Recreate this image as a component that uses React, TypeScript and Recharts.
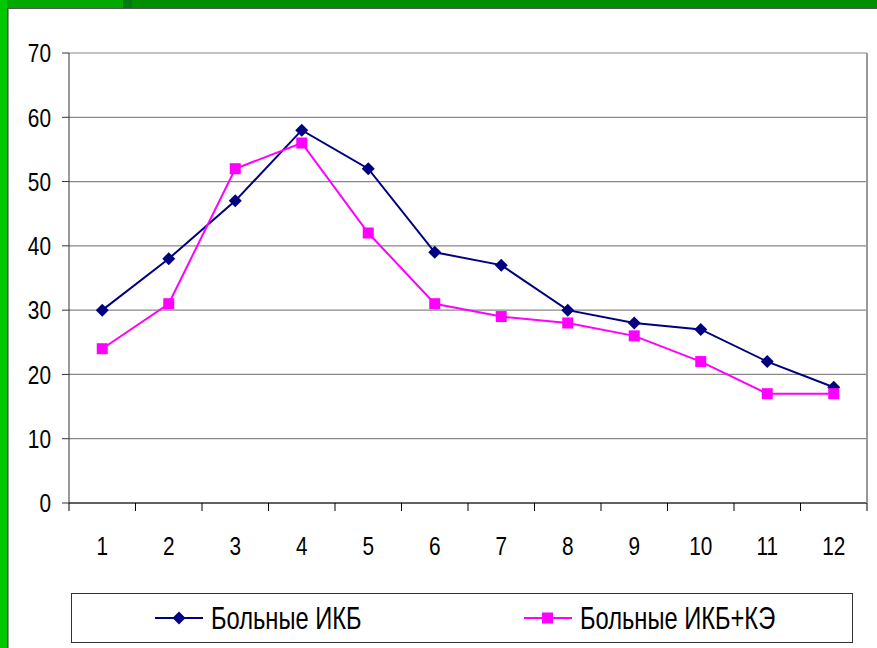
import React from "react";
import { LineChart, Line, XAxis, YAxis, CartesianGrid } from "recharts";

// categories (1..12) and the two series
const categories = ["1", "2", "3", "4", "5", "6", "7", "8", "9", "10", "11", "12"];
const ikb = [30, 38, 47, 58, 52, 39, 37, 30, 28, 27, 22, 18];
const ikbKe = [24, 31, 52, 56, 42, 31, 29, 28, 26, 22, 17, 17];
const yTicks = [0, 10, 20, 30, 40, 50, 60, 70];
const seriesNames = ["Больные ИКБ", "Больные ИКБ+КЭ"];

const NAVY = "#000080";
const MAGENTA = "#ff00ff";
// no narrow font installed, so Liberation Sans is squeezed horizontally
const FONT = "'Liberation Sans', Arial, sans-serif";
const SQUEEZE = 0.8;

const W = 877;
const H = 648;
const PLOT_W = 798;
const STEP = PLOT_W / categories.length;

const data = categories.map((c, i) => ({ cat: c, ikb: ikb[i], ikbKe: ikbKe[i] }));

function Diamond({ cx, cy }: any) {
  if (cx == null || cy == null) return null;
  const r = 6.5;
  return <polygon points={`${cx},${cy - r} ${cx + r},${cy} ${cx},${cy + r} ${cx - r},${cy}`} fill={NAVY} />;
}

function Square({ cx, cy }: any) {
  if (cx == null || cy == null) return null;
  return <rect x={cx - 5.5} y={cy - 5.5} width={11} height={11} fill={MAGENTA} />;
}

// labels at category centres, tick marks on the category boundaries (Excel style)
function XTick({ x, y, payload, index }: any) {
  const top = y - 8;
  return (
    <g>
      <line x1={x - STEP / 2} x2={x - STEP / 2} y1={top} y2={top + 8} stroke="#000" />
      {index === categories.length - 1 && (
        <line x1={x + STEP / 2} x2={x + STEP / 2} y1={top} y2={top + 8} stroke="#000" />
      )}
      <text
        transform={`translate(${x},${y + 44}) scale(${SQUEEZE},1)`}
        textAnchor="middle"
        fontSize={26}
        fontFamily={FONT}
        fill="#000"
      >
        {payload.value}
      </text>
    </g>
  );
}

function YTick({ x, y, payload }: any) {
  return (
    <text
      transform={`translate(${x},${y}) scale(${SQUEEZE},1)`}
      textAnchor="end"
      dy="0.355em"
      fontSize={26}
      fontFamily={FONT}
      fill="#000"
    >
      {payload.value}
    </text>
  );
}

function LegendItem({ name, color, square, left }: any) {
  return (
    <div style={{ position: "absolute", left, top: 0, height: 48, display: "flex", alignItems: "center", whiteSpace: "nowrap" }}>
      <svg width={50} height={20} style={{ marginRight: 6, flex: "none" }}>
        <line x1={0} x2={48} y1={10} y2={10} stroke={color} strokeWidth={2} />
        {square ? (
          <rect x={18} y={4.5} width={11} height={11} fill={color} />
        ) : (
          <polygon points="24,3.5 30.5,10 24,16.5 17.5,10" fill={color} />
        )}
      </svg>
      <span
        style={{
          display: "inline-block",
          fontFamily: FONT,
          fontSize: 32,
          color: "#000",
          lineHeight: 1,
          transform: "scaleX(0.74)",
          transformOrigin: "left center",
        }}
      >
        {name}
      </span>
    </div>
  );
}

export default function App() {
  return (
    <div style={{ position: "fixed", left: 0, top: 0, width: W, height: H, background: "#fff", overflow: "hidden" }}>
      {/* slide frame */}
      <div style={{ position: "absolute", left: 0, top: 0, width: W, height: 8, background: "#008f00" }} />
      <div style={{ position: "absolute", left: 0, top: 0, width: 123, height: 8, background: "#00a800" }} />
      <div style={{ position: "absolute", left: 123, top: 0, width: 9, height: 8, background: "#007a12" }} />
      <div style={{ position: "absolute", left: 0, top: 8, width: W, height: 1, background: "#555" }} />
      <div style={{ position: "absolute", left: 0, top: 0, width: 7, height: H, background: "#00c800" }} />
      <div style={{ position: "absolute", left: 7, top: 9, width: 1, height: H, background: "#008000" }} />
      <div style={{ position: "absolute", left: 8, top: 9, width: 1, height: H, background: "#999" }} />

      <div style={{ position: "absolute", left: 0, top: 0 }}>
        <LineChart width={W} height={H} data={data} margin={{ top: 53, right: 0, left: 0, bottom: 85 }}>
          <CartesianGrid vertical={false} stroke="#888" strokeWidth={1.2} />
          <XAxis
            dataKey="cat"
            height={60}
            padding={{ left: STEP / 2, right: STEP / 2 }}
            axisLine={{ stroke: "#000", strokeWidth: 1.2 }}
            tickLine={false}
            tickSize={8}
            tickMargin={0}
            tick={<XTick />}
            interval={0}
          />
          <YAxis
            width={69}
            domain={[0, 70]}
            ticks={yTicks}
            interval={0}
            axisLine={{ stroke: "#333" }}
            tickLine={{ stroke: "#333" }}
            tickSize={7}
            tickMargin={11}
            tick={<YTick />}
          />
          <YAxis
            yAxisId="frame"
            orientation="right"
            width={10}
            domain={[0, 70]}
            tick={false}
            tickLine={false}
            axisLine={{ stroke: "#999", strokeWidth: 2 }}
          />
          <Line dataKey="ikb" name={seriesNames[0]} stroke={NAVY} strokeWidth={2} dot={<Diamond />} activeDot={false} isAnimationActive={false} />
          <Line dataKey="ikbKe" name={seriesNames[1]} stroke={MAGENTA} strokeWidth={2} dot={<Square />} activeDot={false} isAnimationActive={false} />
        </LineChart>
      </div>

      {/* legend */}
      <div style={{ position: "absolute", left: 71, top: 593, width: 780, height: 48, border: "1px solid #333", background: "#fff" }}>
        <LegendItem name={seriesNames[0]} color={NAVY} left={83} />
        <LegendItem name={seriesNames[1]} color={MAGENTA} left={452} square />
      </div>
    </div>
  );
}
